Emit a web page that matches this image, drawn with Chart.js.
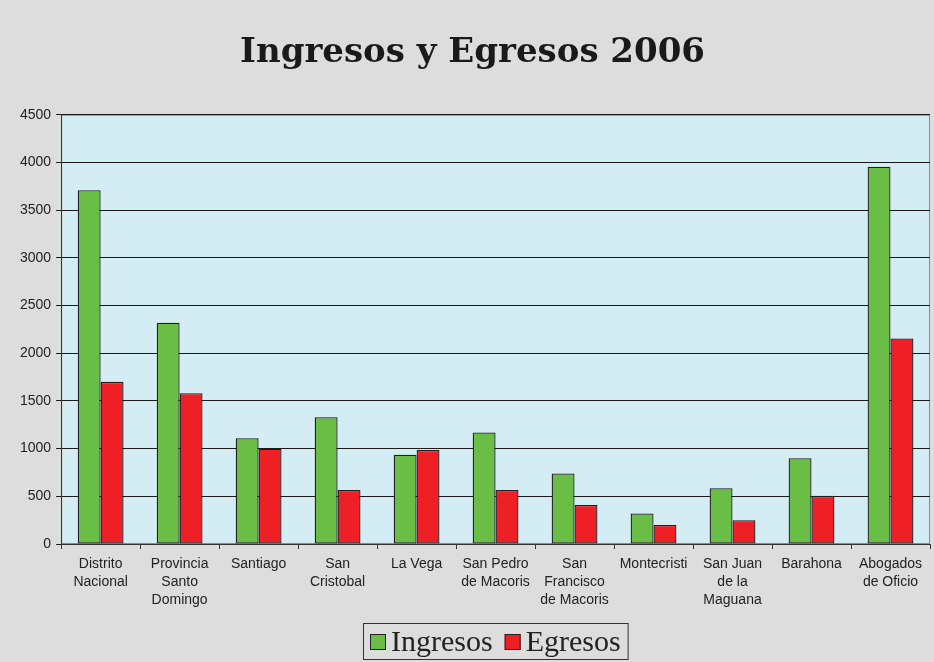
<!DOCTYPE html>
<html>
<head>
<meta charset="utf-8">
<title>Ingresos y Egresos 2006</title>
<script src="https://cdn.jsdelivr.net/npm/chart.js@4.4.1/dist/chart.umd.min.js"></script>
<style>
  html, body { margin: 0; padding: 0; }
  body { background: #dddddd; }
  #wrap { width: 934px; height: 662px; }
</style>
</head>
<body>
<div id="wrap"><canvas id="chart" width="934" height="662"></canvas></div>
<script>
// chart data
const categories = [
    ['Distrito', 'Nacional'],
    ['Provincia', 'Santo', 'Domingo'],
    ['Santiago'],
    ['San', 'Cristobal'],
    ['La Vega'],
    ['San Pedro', 'de Macoris'],
    ['San', 'Francisco', 'de Macoris'],
    ['Montecristi'],
    ['San Juan', 'de la', 'Maguana'],
    ['Barahona'],
    ['Abogados', 'de Oficio'],
];
const ingresos = [3710, 2320, 1110, 1330, 935, 1170, 740, 320, 585, 900, 3955];
const egresos = [1700, 1580, 1000, 565, 985, 565, 410, 200, 250, 505, 2155];
const yTicks = [0, 500, 1000, 1500, 2000, 2500, 3000, 3500, 4000, 4500];

const GREEN = '#6abd45';
const RED = '#ee1f25';

// light blue plot background with a grey frame
const plotBackground = {
    id: 'plotBackground',
    beforeDraw(chart) {
        const { ctx, chartArea: a } = chart;
        ctx.save();
        ctx.fillStyle = '#d4edf4';
        ctx.fillRect(a.left, a.top, a.right - a.left, a.bottom - a.top);
        ctx.strokeStyle = '#8a8a8a';
        ctx.lineWidth = 1;
        ctx.strokeRect(a.left + 0.5, a.top + 0.5, a.right - a.left - 1, a.bottom - a.top - 1);
        ctx.restore();
    },
};

// framed legend under the axis (small gap between swatch and text)
const boxLegend = {
    id: 'boxLegend',
    afterDraw(chart) {
        const { ctx, chartArea: a } = chart;
        const items = chart.data.datasets;
        const sw = 16, gap = 5, between = 12, padX = 7;
        ctx.save();
        ctx.font = '30px "Liberation Serif", "Times New Roman", serif';
        const widths = items.map(ds => ctx.measureText(ds.label).width);
        const total = widths.reduce((s, w) => s + sw + gap + w, 0) + between * (items.length - 1);
        const cx = (a.left + a.right) / 2;
        const cy = chart.height - 21;
        let x = Math.round(cx - total / 2);

        ctx.strokeStyle = '#333';
        ctx.lineWidth = 1;
        ctx.strokeRect(x - padX + 0.5, cy - 18 + 0.5, total + padX * 2, 36);

        items.forEach((ds, i) => {
            ctx.fillStyle = ds.backgroundColor;
            ctx.fillRect(x, cy - 7, sw, sw);
            ctx.strokeStyle = '#222';
            ctx.strokeRect(x + 0.5, cy - 7 + 0.5, sw - 1, sw - 1);
            ctx.fillStyle = '#222';
            ctx.textBaseline = 'alphabetic';
            ctx.fillText(ds.label, x + sw + gap, cy + 10);
            x += sw + gap + widths[i] + between;
        });
        ctx.restore();
    },
};

new Chart(document.getElementById('chart'), {
    type: 'bar',
    data: {
        labels: categories,
        datasets: [
            {
                label: 'Ingresos',
                data: ingresos,
                backgroundColor: GREEN,
                borderColor: '#1e1e1e',
                borderWidth: 1.3,
                borderSkipped: false,
            },
            {
                label: 'Egresos',
                data: egresos,
                backgroundColor: RED,
                borderColor: '#1e1e1e',
                borderWidth: 1.3,
                borderSkipped: false,
            },
        ],
    },
    options: {
        responsive: false,
        animation: false,
        layout: { padding: { left: 15, right: 4, top: 0, bottom: 45 } },
        datasets: {
            bar: { categoryPercentage: 0.58, barPercentage: 1 },
        },
        plugins: {
            legend: { display: false },
            tooltip: { enabled: false },
            title: {
                display: true,
                text: 'Ingresos y Egresos 2006',
                color: '#1a1a1a',
                font: { family: '"DejaVu Serif", serif', size: 34, weight: 'bold', lineHeight: 1.2 },
                padding: { top: 33, bottom: 41 },
            },
        },
        scales: {
            x: {
                grid: { offset: true, drawOnChartArea: false, tickLength: 5, color: '#333' },
                border: { color: '#333' },
                ticks: {
                    color: '#222',
                    maxRotation: 0,
                    autoSkip: false,
                    padding: 6,
                    font: { family: '"Liberation Sans", Arial, sans-serif', size: 14, lineHeight: 1.29 },
                },
                afterFit(scale) { scale.height = 73; },
            },
            y: {
                min: 0,
                max: 4500,
                afterBuildTicks(scale) { scale.ticks = yTicks.map(v => ({ value: v })); },
                grid: { color: '#1a1a1a', tickLength: 5 },
                border: { color: '#333' },
                ticks: {
                    color: '#222',
                    padding: 5,
                    font: { family: '"Liberation Sans", Arial, sans-serif', size: 14 },
                    callback: value => String(value),
                },
            },
        },
    },
    plugins: [plotBackground, boxLegend],
});
</script>
</body>
</html>
